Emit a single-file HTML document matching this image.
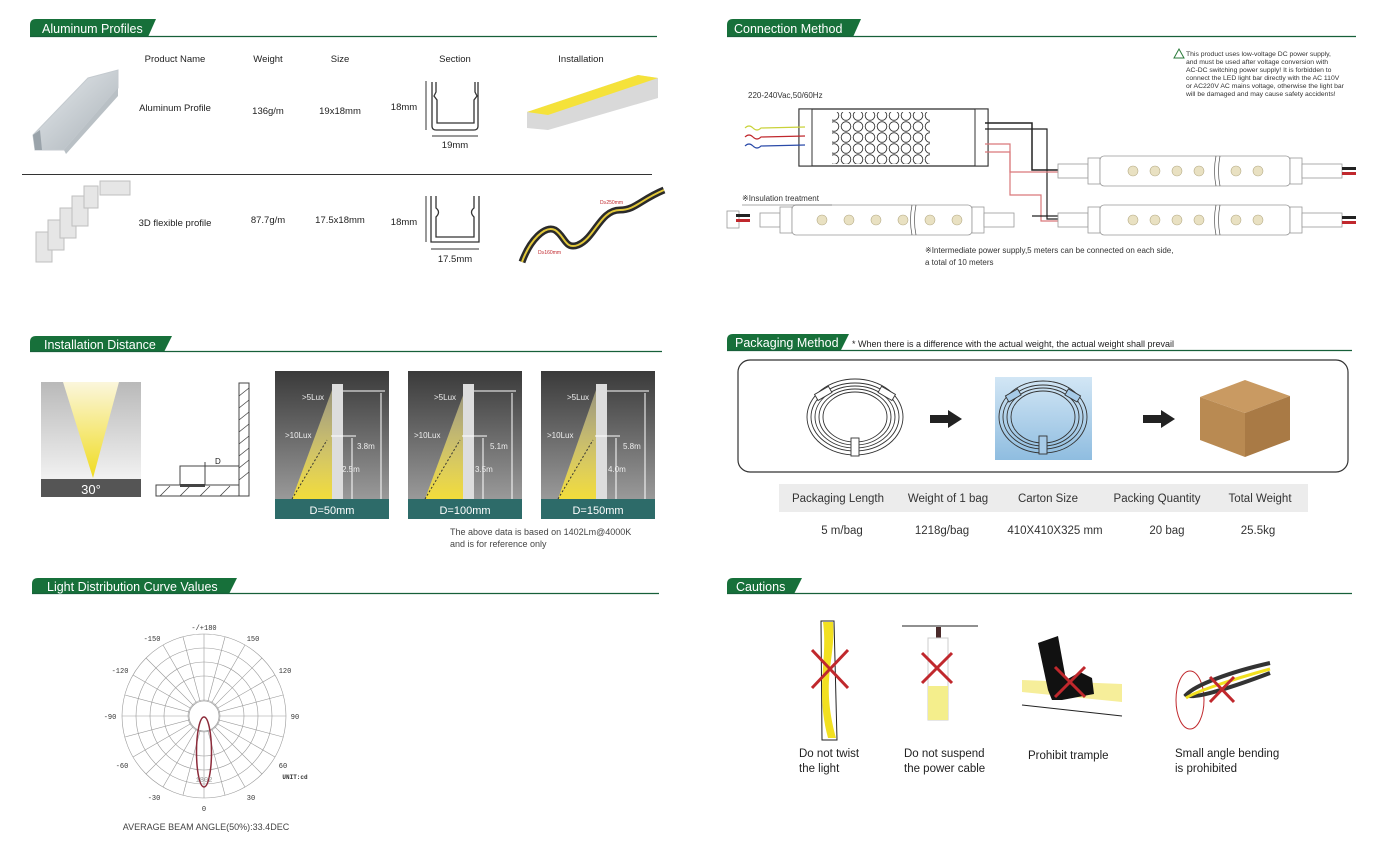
<!DOCTYPE html>
<html><head><meta charset="utf-8"><style>
html,body{margin:0;padding:0;background:#fff;}
svg{display:block;font-family:"Liberation Sans",sans-serif;}
</style></head><body>
<svg width="1392" height="846" viewBox="0 0 1392 846" xmlns="http://www.w3.org/2000/svg">
<defs>
<linearGradient id="pg" x1="0" y1="0" x2="0" y2="1"><stop offset="0" stop-color="#3a3a3a"/><stop offset="1" stop-color="#9a9a9a"/></linearGradient>
<linearGradient id="cone" x1="0" y1="0" x2="0" y2="1"><stop offset="0" stop-color="#fbf6dc"/><stop offset="1" stop-color="#f0dc20"/></linearGradient>
<linearGradient id="gbg" x1="0" y1="0" x2="0" y2="1"><stop offset="0" stop-color="#b9b9b9"/><stop offset="1" stop-color="#f2f2f2"/></linearGradient>
<linearGradient id="beam" x1="0" y1="0" x2="0" y2="1"><stop offset="0" stop-color="#cfc79a" stop-opacity="0.6"/><stop offset="1" stop-color="#f2dc3a"/></linearGradient>
<linearGradient id="blue" x1="0" y1="0" x2="0" y2="1"><stop offset="0" stop-color="#d2e6f5"/><stop offset="1" stop-color="#8fbde0"/></linearGradient>
<linearGradient id="alu" x1="0" y1="0" x2="1" y2="1"><stop offset="0" stop-color="#e8ecef"/><stop offset="1" stop-color="#a9b1b7"/></linearGradient>
<pattern id="hex" width="12" height="11" patternUnits="userSpaceOnUse"><circle cx="6" cy="5.5" r="4.8" fill="none" stroke="#333" stroke-width="0.9"/></pattern>
</defs>

<g fill="#17703a">
<path d="M30,37 L30,25 Q30,19 36,19 L156,19 L148,37 Z"/>
<path d="M727,37 L727,25 Q727,19 733,19 L861,19 L853,37 Z"/>
<path d="M30,352 L30,342 Q30,336 36,336 L172,336 L164,352 Z"/>
<path d="M727,350 L727,340 Q727,334 733,334 L849,334 L841,350 Z"/>
<path d="M32,594 L32,584 Q32,578 38,578 L237,578 L229,594 Z"/>
<path d="M727,594 L727,584 Q727,578 733,578 L802,578 L794,594 Z"/>
</g>
<g stroke="#17603a" stroke-width="1.2">
<line x1="30" y1="36.5" x2="657" y2="36.5"/><line x1="727" y1="36.5" x2="1356" y2="36.5"/>
<line x1="30" y1="351.5" x2="662" y2="351.5"/><line x1="727" y1="350.5" x2="1352" y2="350.5"/>
<line x1="32" y1="593.5" x2="659" y2="593.5"/><line x1="727" y1="593.5" x2="1352" y2="593.5"/>
</g>
<g fill="#fff" font-size="12.5">
<text x="42" y="33">Aluminum Profiles</text>
<text x="734" y="33">Connection Method</text>
<text x="44" y="349">Installation Distance</text>
<text x="735" y="347">Packaging Method</text>
<text x="47" y="591">Light Distribution Curve Values</text>
<text x="736" y="591">Cautions</text>
</g>

<g font-size="9.5" fill="#222" text-anchor="middle">
<text x="175" y="62">Product Name</text><text x="268" y="62">Weight</text><text x="340" y="62">Size</text>
<text x="455" y="62">Section</text><text x="581" y="62">Installation</text>
<text x="175" y="111">Aluminum Profile</text><text x="268" y="114">136g/m</text><text x="340" y="114">19x18mm</text>
<text x="404" y="110">18mm</text><text x="455" y="148">19mm</text>
<text x="175" y="226">3D flexible profile</text><text x="268" y="223">87.7g/m</text><text x="340" y="223">17.5x18mm</text>
<text x="404" y="225">18mm</text><text x="455" y="262">17.5mm</text>
</g>
<line x1="22" y1="174.5" x2="652" y2="174.5" stroke="#333" stroke-width="1"/>
<polygon points="33,135 88,78 118,70 118,88 64,150 35,150" fill="url(#alu)" stroke="#c4cacf"/>
<polygon points="33,135 40,130 42,150 35,150" fill="#9aa3aa"/>
<polygon points="64,150 118,88 118,96 66,154" fill="#b9c0c5"/>
<g fill="#e6e6e6" stroke="#bfbfbf">
<rect x="36" y="232" width="16" height="30"/><rect x="48" y="220" width="16" height="30"/><rect x="60" y="208" width="16" height="30"/><rect x="72" y="196" width="16" height="30"/><rect x="84" y="186" width="14" height="22"/><rect x="100" y="181" width="30" height="14"/>
</g>
<g fill="none" stroke="#333" stroke-width="1.3">
<path d="M432,82 V126 Q432,130 436,130 H474 Q478,130 478,126 V82 M436,82 V92 L434,96 L437,100 V123 H474 V100 L477,96 L475,92 V82"/>
<path d="M431,196 V242 H479 V196 M436,196 V208 Q441,212 436,217 V237 H474 V217 Q469,212 474,208 V196"/>
</g>
<g stroke="#333" stroke-width="1"><line x1="426" y1="81" x2="426" y2="130"/><line x1="432" y1="136" x2="478" y2="136"/><line x1="426" y1="196" x2="426" y2="242"/><line x1="431" y1="249" x2="479" y2="249"/></g>
<polygon points="527,112 638,75 658,78 658,98 548,130 527,128" fill="#d9d9d9"/>
<polygon points="527,112 638,75 658,78 548,115" fill="#f5e23a"/>
<path d="M522,262 C530,240 545,225 555,230 C565,236 565,250 578,245 C595,238 600,210 620,210 C635,210 640,200 664,190" fill="none" stroke="#2a2a2a" stroke-width="7"/>
<path d="M522,262 C530,240 545,225 555,230 C565,236 565,250 578,245 C595,238 600,210 620,210 C635,210 640,200 664,190" fill="none" stroke="#e2c83a" stroke-width="2"/>
<text x="600" y="204" font-size="5" fill="#c0282d">D≥250mm</text><text x="538" y="254" font-size="5" fill="#c0282d">D≥160mm</text>

<rect x="41" y="382" width="100" height="98" fill="url(#gbg)"/>
<polygon points="63,382 119,382 93,478" fill="url(#cone)"/>
<rect x="41" y="479" width="100" height="18" fill="#555"/>
<text x="91" y="494" font-size="13" fill="#fff" text-anchor="middle">30°</text>
<g stroke="#444" fill="none" stroke-width="1">
<rect x="239" y="383" width="10" height="113"/><rect x="156" y="485" width="83" height="11"/>
<path d="M180,485 V466 H205 V485"/><line x1="205" y1="466" x2="239" y2="466"/><line x1="205" y1="462" x2="205" y2="472"/>
</g>
<g stroke="#444" stroke-width="0.8">
<line x1="239" y1="396" x2="249" y2="388"/><line x1="239" y1="408" x2="249" y2="400"/><line x1="239" y1="420" x2="249" y2="412"/><line x1="239" y1="432" x2="249" y2="424"/><line x1="239" y1="444" x2="249" y2="436"/><line x1="239" y1="456" x2="249" y2="448"/><line x1="239" y1="468" x2="249" y2="460"/><line x1="239" y1="480" x2="249" y2="472"/>
<line x1="160" y1="496" x2="170" y2="486"/><line x1="180" y1="496" x2="190" y2="486"/><line x1="200" y1="496" x2="210" y2="486"/><line x1="220" y1="496" x2="230" y2="486"/>
</g>
<rect x="180" y="484" width="25" height="3" fill="#444"/>
<text x="215" y="464" font-size="8" fill="#222">D</text>

<g font-size="8" fill="#eee">
<g transform="translate(275,0)">
<rect x="0" y="371" width="114" height="129" fill="url(#pg)"/>
<polygon points="17,499 57,390 57,499" fill="url(#beam)"/>
<line x1="17" y1="499" x2="52" y2="440" stroke="#333" stroke-dasharray="2,2"/>
<rect x="57" y="384" width="11" height="115" fill="#ddd"/>
<g stroke="#fff" stroke-width="1"><line x1="68" y1="391" x2="110" y2="391"/><line x1="56" y1="436" x2="81" y2="436"/><line x1="106" y1="393" x2="106" y2="499"/><line x1="77" y1="438" x2="77" y2="499"/></g>
<text x="27" y="400">&gt;5Lux</text><text x="10" y="438">&gt;10Lux</text><text x="82" y="449">3.8m</text><text x="67" y="472">2.5m</text>
<rect x="0" y="499" width="114" height="20" fill="#2d6b69"/><text x="57" y="514" font-size="11" text-anchor="middle" fill="#fff">D=50mm</text>
</g>
<g transform="translate(408,0)">
<rect x="0" y="371" width="114" height="129" fill="url(#pg)"/>
<polygon points="17,499 57,390 57,499" fill="url(#beam)"/>
<line x1="17" y1="499" x2="52" y2="440" stroke="#333" stroke-dasharray="2,2"/>
<rect x="55" y="384" width="11" height="115" fill="#ddd"/>
<g stroke="#fff" stroke-width="1"><line x1="66" y1="391" x2="108" y2="391"/><line x1="54" y1="436" x2="79" y2="436"/><line x1="104" y1="393" x2="104" y2="499"/><line x1="75" y1="438" x2="75" y2="499"/></g>
<text x="26" y="400">&gt;5Lux</text><text x="6" y="438">&gt;10Lux</text><text x="82" y="449">5.1m</text><text x="67" y="472">3.5m</text>
<rect x="0" y="499" width="114" height="20" fill="#2d6b69"/><text x="57" y="514" font-size="11" text-anchor="middle" fill="#fff">D=100mm</text>
</g>
<g transform="translate(541,0)">
<rect x="0" y="371" width="114" height="129" fill="url(#pg)"/>
<polygon points="17,499 55,390 55,499" fill="url(#beam)"/>
<line x1="17" y1="499" x2="52" y2="440" stroke="#333" stroke-dasharray="2,2"/>
<rect x="55" y="384" width="11" height="115" fill="#ddd"/>
<g stroke="#fff" stroke-width="1"><line x1="66" y1="391" x2="108" y2="391"/><line x1="54" y1="436" x2="79" y2="436"/><line x1="104" y1="393" x2="104" y2="499"/><line x1="75" y1="438" x2="75" y2="499"/></g>
<text x="26" y="400">&gt;5Lux</text><text x="6" y="438">&gt;10Lux</text><text x="82" y="449">5.8m</text><text x="67" y="472">4.0m</text>
<rect x="0" y="499" width="114" height="20" fill="#2d6b69"/><text x="57" y="514" font-size="11" text-anchor="middle" fill="#fff">D=150mm</text>
</g>
</g>
<text x="450" y="535" font-size="9" fill="#444">The above data is based on 1402Lm@4000K</text>
<text x="450" y="547" font-size="9" fill="#444">and is for reference only</text>

<g fill="none" stroke="#999" stroke-width="0.6">
<circle cx="204" cy="716" r="82"/><circle cx="204" cy="716" r="68"/><circle cx="204" cy="716" r="54"/><circle cx="204" cy="716" r="40"/><circle cx="204" cy="716" r="16"/>
<line x1="204" y1="634" x2="204" y2="798"/><line x1="122" y1="716" x2="286" y2="716"/>
<line x1="245" y1="645" x2="163" y2="787"/><line x1="163" y1="645" x2="245" y2="787"/>
<line x1="275" y1="675" x2="133" y2="757"/><line x1="133" y1="675" x2="275" y2="757"/>
<line x1="225" y1="637" x2="183" y2="795"/><line x1="183" y1="637" x2="225" y2="795"/>
<line x1="262" y1="658" x2="146" y2="774"/><line x1="146" y1="658" x2="262" y2="774"/>
<line x1="283" y1="695" x2="125" y2="737"/><line x1="125" y1="695" x2="283" y2="737"/>
</g>
<circle cx="204" cy="716" r="15" fill="#fff" stroke="#999" stroke-width="0.6"/>
<ellipse cx="204" cy="752" rx="7.5" ry="35" fill="none" stroke="#8c2b3a" stroke-width="1.5"/>
<g font-size="7" fill="#333" text-anchor="middle" font-family="Liberation Mono,monospace">
<text x="204" y="630">-/+180</text><text x="152" y="641">-150</text><text x="253" y="641">150</text>
<text x="120" y="673">-120</text><text x="285" y="673">120</text><text x="110" y="719">-90</text><text x="295" y="719">90</text>
<text x="122" y="768">-60</text><text x="283" y="768">60</text><text x="154" y="800">-30</text><text x="251" y="800">30</text><text x="204" y="811">0</text>
<text x="295" y="779" font-weight="bold" font-size="6">UNIT:cd</text><text x="204" y="782" fill="#999">1802</text>
</g>
<text x="206" y="830" font-size="9" fill="#444" text-anchor="middle">AVERAGE BEAM ANGLE(50%):33.4DEC</text>

<text x="748" y="98" font-size="8" fill="#333">220-240Vac,50/60Hz</text>
<path d="M1174,58 L1179,49 L1184,58 Z" fill="none" stroke="#2a7a3a" stroke-width="1"/>
<g font-size="6.8" fill="#333">
<text x="1186" y="56">This product uses low-voltage DC power supply,</text>
<text x="1186" y="64">and must be used after voltage conversion with</text>
<text x="1186" y="72">AC-DC switching power supply! It is forbidden to</text>
<text x="1186" y="80">connect the LED light bar directly with the AC 110V</text>
<text x="1186" y="88">or AC220V AC mains voltage, otherwise the light bar</text>
<text x="1186" y="96">will be damaged and may cause safety accidents!</text>
</g>
<rect x="799" y="109" width="189" height="57" fill="#fff" stroke="#333" stroke-width="1.3"/>
<rect x="799" y="109" width="13" height="57" fill="#fff" stroke="#333"/><rect x="975" y="109" width="13" height="57" fill="#fff" stroke="#333"/>
<rect x="832" y="112" width="98" height="52" fill="url(#hex)"/>
<g stroke-width="1.2" fill="none">
<path d="M745,128 q4,-4 8,0 t8,0 L805,127" stroke="#c9d23a"/>
<path d="M745,137 q4,-4 8,0 t8,0 L805,136" stroke="#c0282d"/>
<path d="M745,146 q4,-4 8,0 t8,0 L805,145" stroke="#2a4aa8"/>
<path d="M985,123 H1032 V170 H1058" stroke="#222" stroke-width="1.5"/>
<path d="M985,129 H1047 V219 H1058" stroke="#222"/>
<path d="M985,144 H1010 V172 H1058" stroke="#d9787a"/>
<path d="M985,152 H1010 V195 H1041 V221 H1058" stroke="#d9787a"/>
<path d="M1032,216 H1058" stroke="#222"/>
</g>
<g fill="#fff" stroke="#999" stroke-width="0.8">
<rect x="1058" y="164" width="30" height="14"/><rect x="1088" y="158" width="12" height="26"/><rect x="1100" y="156" width="190" height="30" rx="4"/><rect x="1290" y="158" width="12" height="26"/><rect x="1302" y="164" width="40" height="14"/>
<rect x="1058" y="213" width="30" height="14"/><rect x="1088" y="207" width="12" height="26"/><rect x="1100" y="205" width="190" height="30" rx="4"/><rect x="1290" y="207" width="12" height="26"/><rect x="1302" y="213" width="40" height="14"/>
<rect x="760" y="213" width="20" height="14"/><rect x="780" y="207" width="12" height="26"/><rect x="792" y="205" width="180" height="30" rx="4"/><rect x="972" y="207" width="12" height="26"/><rect x="984" y="213" width="30" height="14"/>
<rect x="727" y="211" width="12" height="17"/>
</g>
<g fill="#e9e1c2" stroke="#b7ad88" stroke-width="0.6">
<circle cx="1133" cy="171" r="5"/><circle cx="1155" cy="171" r="5"/><circle cx="1177" cy="171" r="5"/><circle cx="1199" cy="171" r="5"/><circle cx="1236" cy="171" r="5"/><circle cx="1258" cy="171" r="5"/>
<circle cx="1133" cy="220" r="5"/><circle cx="1155" cy="220" r="5"/><circle cx="1177" cy="220" r="5"/><circle cx="1199" cy="220" r="5"/><circle cx="1236" cy="220" r="5"/><circle cx="1258" cy="220" r="5"/>
<circle cx="822" cy="220" r="5"/><circle cx="849" cy="220" r="5"/><circle cx="876" cy="220" r="5"/><circle cx="903" cy="220" r="5"/><circle cx="930" cy="220" r="5"/><circle cx="957" cy="220" r="5"/>
</g>
<g stroke="#555" stroke-width="0.7" fill="none">
<path d="M1216,156 q-3,15 0,30 M1220,156 q-3,15 0,30"/><path d="M1216,205 q-3,15 0,30 M1220,205 q-3,15 0,30"/><path d="M912,205 q-3,15 0,30 M916,205 q-3,15 0,30"/>
</g>
<g><rect x="1342" y="167" width="14" height="3" fill="#222"/><rect x="1342" y="172" width="14" height="3" fill="#c0282d"/>
<rect x="1342" y="216" width="14" height="3" fill="#222"/><rect x="1342" y="221" width="14" height="3" fill="#c0282d"/>
<rect x="736" y="214" width="14" height="3" fill="#222"/><rect x="736" y="219" width="14" height="3" fill="#c0282d"/></g>
<line x1="742" y1="205" x2="832" y2="205" stroke="#555" stroke-width="0.6"/>
<text x="742" y="201" font-size="8" fill="#333">※Insulation treatment</text>
<text x="925" y="253" font-size="8" fill="#333">※Intermediate power supply,5 meters can be connected on each side,</text>
<text x="925" y="265" font-size="8" fill="#333">a total of 10 meters</text>

<text x="852" y="347" font-size="9" fill="#222">* When there is a difference with the actual weight, the actual weight shall prevail</text>
<rect x="738" y="360" width="610" height="112" rx="12" fill="#fff" stroke="#333" stroke-width="1.2"/>
<g fill="none" stroke="#333" stroke-width="0.9">
<ellipse cx="855" cy="417" rx="48" ry="38"/><ellipse cx="855" cy="417" rx="44" ry="34"/><ellipse cx="855" cy="417" rx="40" ry="31"/><ellipse cx="855" cy="417" rx="36" ry="28"/><ellipse cx="855" cy="417" rx="32" ry="25"/>
</g>
<g fill="#fff" stroke="#333" stroke-width="0.9">
<rect x="851" y="438" width="8" height="18"/><rect x="815" y="390" width="16" height="7" transform="rotate(-30 823 393)"/><rect x="879" y="390" width="16" height="7" transform="rotate(30 887 393)"/>
</g>
<rect x="995" y="377" width="97" height="83" fill="url(#blue)"/>
<g fill="none" stroke="#333" stroke-width="0.9">
<ellipse cx="1043" cy="417" rx="44" ry="36"/><ellipse cx="1043" cy="417" rx="40" ry="32"/><ellipse cx="1043" cy="417" rx="36" ry="29"/><ellipse cx="1043" cy="417" rx="32" ry="26"/>
</g>
<g fill="#a7cbe8" stroke="#333" stroke-width="0.9">
<rect x="1039" y="436" width="8" height="18"/><rect x="1006" y="392" width="14" height="7" transform="rotate(-30 1013 395)"/><rect x="1066" y="392" width="14" height="7" transform="rotate(30 1073 395)"/>
</g>
<polygon points="930,415 948,415 948,410 962,419 948,428 948,423 930,423" fill="#222"/>
<polygon points="1143,415 1161,415 1161,410 1175,419 1161,428 1161,423 1143,423" fill="#222"/>
<polygon points="1200,397 1245,380 1290,396 1245,413" fill="#c99a62"/>
<polygon points="1200,397 1245,413 1245,457 1200,440" fill="#b98a52"/>
<polygon points="1245,413 1290,396 1290,440 1245,457" fill="#a97a45"/>
<rect x="779" y="484" width="529" height="28" fill="#ececec"/>
<g font-size="11.5" fill="#333" text-anchor="middle">
<text x="838" y="502">Packaging Length</text><text x="948" y="502">Weight of 1 bag</text><text x="1048" y="502">Carton Size</text><text x="1157" y="502">Packing Quantity</text><text x="1260" y="502">Total Weight</text>
<text x="842" y="534">5 m/bag</text><text x="942" y="534">1218g/bag</text><text x="1055" y="534">410X410X325 mm</text><text x="1167" y="534">20 bag</text><text x="1258" y="534">25.5kg</text>
</g>

<path d="M821,621 L834,621 L837,740 L822,740 Z" fill="#fff" stroke="#222"/>
<path d="M823,622 L833,622 C836,660 820,680 836,738 L828,738 C815,690 828,660 823,622 Z" fill="#f2e020"/>
<line x1="902" y1="626" x2="978" y2="626" stroke="#222"/><rect x="936" y="627" width="5" height="11" fill="#4a2a2a"/>
<rect x="928" y="638" width="20" height="82" fill="#fff" stroke="#ccc"/><rect x="928" y="686" width="20" height="34" fill="#f4ee8c"/>
<polygon points="1022,680 1122,684 1122,702 1022,692" fill="#f6ee9a"/><line x1="1022" y1="705" x2="1122" y2="716" stroke="#222"/>
<polygon points="1038,643 1058,636 1066,680 1080,672 1092,678 1094,694 1062,700 1052,700 1048,690" fill="#111"/>
<ellipse cx="1190" cy="700" rx="14" ry="29" fill="none" stroke="#c0282d"/>
<path d="M1270,663 C1230,672 1195,685 1186,695 C1190,700 1225,690 1270,673" fill="none" stroke="#333" stroke-width="4"/>
<path d="M1270,669 C1230,680 1195,692 1186,698" fill="none" stroke="#f2e020" stroke-width="3"/>
<g stroke="#c0282d" stroke-width="3"><line x1="812" y1="650" x2="848" y2="688"/><line x1="848" y1="650" x2="812" y2="688"/>
<line x1="922" y1="653" x2="952" y2="683"/><line x1="952" y1="653" x2="922" y2="683"/>
<line x1="1055" y1="667" x2="1085" y2="697"/><line x1="1085" y1="667" x2="1055" y2="697"/>
<line x1="1210" y1="677" x2="1234" y2="702"/><line x1="1234" y1="677" x2="1210" y2="702"/></g>
<g font-size="11.5" fill="#222">
<text x="799" y="757">Do not twist</text><text x="799" y="772">the light</text>
<text x="904" y="757">Do not suspend</text><text x="904" y="772">the power cable</text>
<text x="1028" y="759">Prohibit trample</text>
<text x="1175" y="757">Small angle bending</text><text x="1175" y="772">is prohibited</text>
</g>
</svg>
</body></html>
